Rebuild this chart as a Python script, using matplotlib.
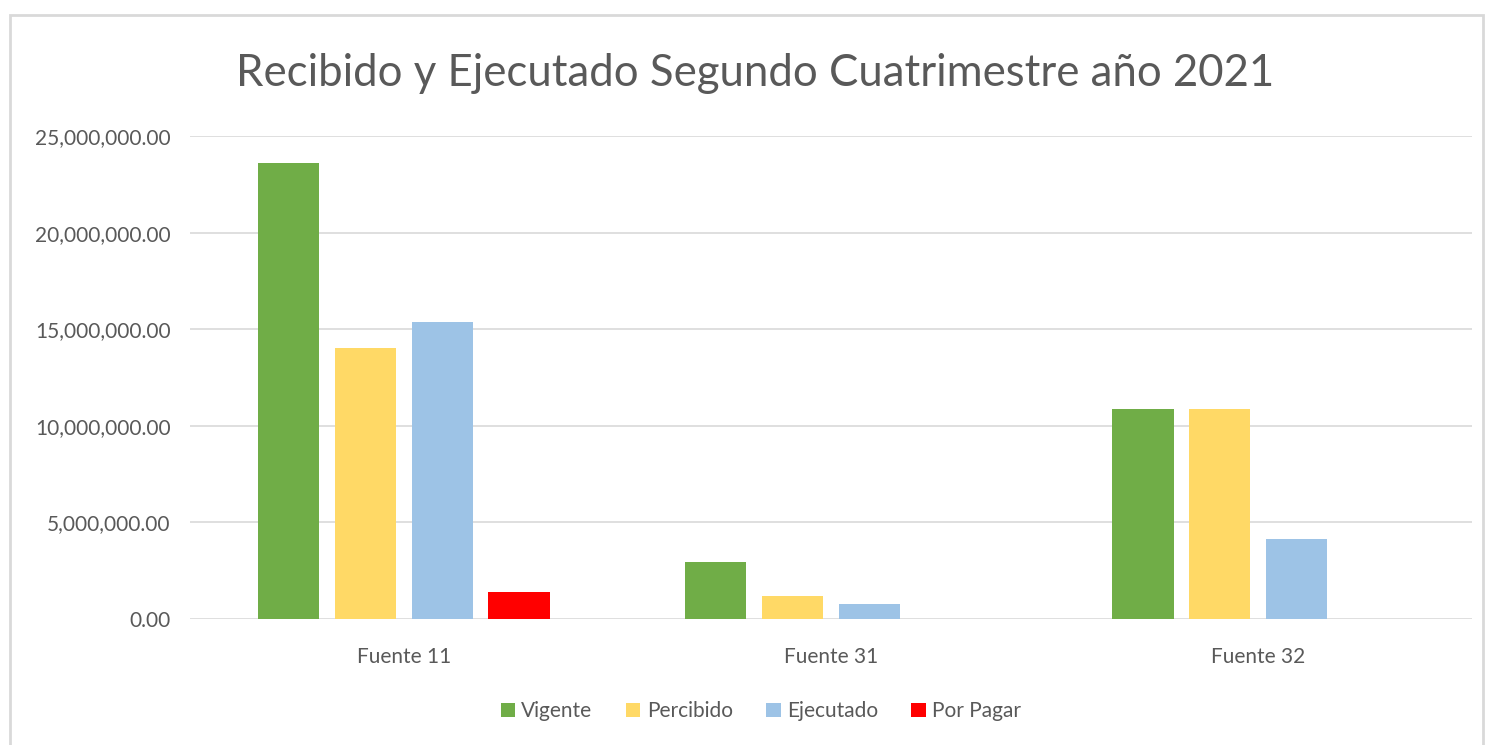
import matplotlib.pyplot as plt
from matplotlib.patches import Rectangle
from matplotlib.ticker import FuncFormatter
import numpy as np

plt.rcParams['font.family'] = ['Lato', 'DejaVu Sans']

categories = ["Fuente 11", "Fuente 31", "Fuente 32"]
series = ["Vigente", "Percibido", "Ejecutado", "Por Pagar"]
vigente = [23600000, 2950000, 10850000]
percibido = [14030000, 1190000, 10850000]
ejecutado = [15370000, 780000, 4140000]
por_pagar = [1400000, 0, 0]
colors = ["#70ad47", "#ffd966", "#9dc3e6", "#ff0000"]

fig = plt.figure(figsize=(14.89, 7.45), dpi=100)
ax = fig.add_axes([0.1276, 0.1691, 0.8610, 0.6483])

x = np.arange(len(categories))
width = 0.143
step = 0.18
for i, (name, vals) in enumerate(zip(series, [vigente, percibido, ejecutado, por_pagar])):
    ax.bar(x + (i - 1.5) * step, vals, width, color=colors[i], label=name, zorder=3)

ax.set_xlim(-0.5, 2.5)
ax.set_ylim(0, 25000000)
ax.set_yticks(np.arange(0, 25000001, 5000000))
ax.yaxis.set_major_formatter(FuncFormatter(lambda v, p: f"{v:,.2f}"))
ax.set_xticks(x)
ax.set_xticklabels(categories)
ax.grid(axis='y', color='#d9d9d9', linewidth=1.2, zorder=0)
for s in ax.spines.values():
    s.set_visible(False)
ax.tick_params(length=0, labelsize=15, colors='#595959', pad=14)
ax.tick_params(axis='x', pad=20)

fig.text(0.507, 0.902, "Recibido y Ejecutado Segundo Cuatrimestre año 2021",
         ha='center', va='center', fontsize=31.5, color='#595959')

leg = fig.legend(loc='center', bbox_to_anchor=(0.511, 0.045), ncol=4, frameon=False,
                 fontsize=15, handlelength=0.7, handleheight=0.7, handletextpad=0.3,
                 columnspacing=1.6)
for t in leg.get_texts():
    t.set_color('#595959')

fig.patches.append(Rectangle((0.007, -0.01), 0.989, 0.99, transform=fig.transFigure,
                             fill=False, edgecolor='#d9d9d9', linewidth=2))

fig.savefig("out.png", dpi=100)
